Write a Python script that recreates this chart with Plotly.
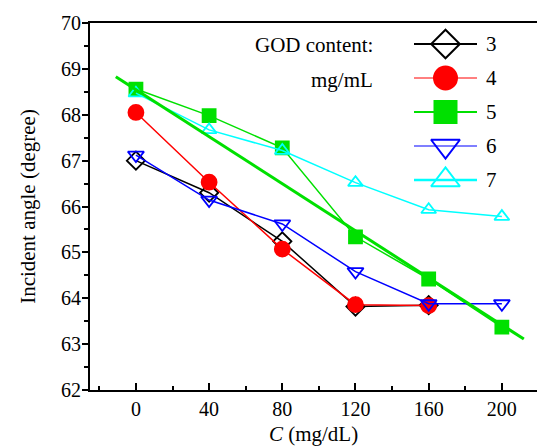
import plotly.graph_objects as go

# ---- data ----
conc = [0, 40, 80, 120, 160, 200]
god3 = [67.00, 66.30, 65.24, 63.82, 63.85]
god4 = [68.05, 66.53, 65.07, 63.86, 63.84]
god5 = [68.56, 67.98, 67.28, 65.34, 64.42, 63.37]
god6 = [67.12, 66.14, 65.62, 64.58, 63.88, 63.88]
god7 = [68.47, 67.67, 67.22, 66.52, 65.93, 65.78]
fit5_x = [-11, 212]
fit5_y = [68.83, 63.11]

legend_labels = ["3", "4", "5", "6", "7"]
colors = ["black", "#ff0000", "#00e000", "#0000ff", "#00ffff"]
symbols = ["diamond-open", "circle", "square", "triangle-down-open", "triangle-up-open"]
series = [god3, god4, god5, god6, god7]
plot_sizes = [14, 15, 13, 14, 13]
legend_sizes = [22, 23, 22, 25, 25]
legend_lw = [2, 1, 2, 1.2, 2.5]

FONT = "Liberation Serif"

fig = go.Figure()

for ys, c, sym, ms in zip(series, colors, symbols, plot_sizes):
    fig.add_trace(go.Scatter(
        x=conc[:len(ys)], y=ys, mode="lines+markers",
        line=dict(color=c, width=1.5),
        marker=dict(symbol=sym, size=ms, color=c, line=dict(color=c, width=1.8)),
        showlegend=False, cliponaxis=False))

fig.add_trace(go.Scatter(x=fit5_x, y=fit5_y, mode="lines",
                         line=dict(color="#00e000", width=3), showlegend=False))

# ---- custom legend on hidden axes ----
for i, (lab, c, sym, ms, lw) in enumerate(zip(legend_labels, colors, symbols, legend_sizes, legend_lw)):
    fig.add_trace(go.Scatter(x=[0, 2], y=[i, i], mode="lines", line=dict(color=c, width=lw),
                             xaxis="x2", yaxis="y2", showlegend=False, hoverinfo="skip"))
    fig.add_trace(go.Scatter(x=[1], y=[i], mode="markers",
                             marker=dict(symbol=sym, size=ms, color=c, line=dict(color=c, width=2)),
                             xaxis="x2", yaxis="y2", showlegend=False, cliponaxis=False, hoverinfo="skip"))
    fig.add_annotation(x=2, y=i, xref="x2", yref="y2", text=lab, showarrow=False,
                       xanchor="left", yanchor="middle", xshift=7,
                       font=dict(family=FONT, size=21, color="black"))

fig.add_annotation(x=(375 - 90) / 447, y=(390 - 45) / 367, xref="paper", yref="paper",
                   text="GOD content:", showarrow=False, xanchor="right", yanchor="middle",
                   font=dict(family=FONT, size=21, color="black"))
fig.add_annotation(x=(375 - 90) / 447, y=(390 - 80) / 367, xref="paper", yref="paper",
                   text="mg/mL", showarrow=False, xanchor="right", yanchor="middle",
                   font=dict(family=FONT, size=21, color="black"))

fig.update_layout(
    width=537, height=446,
    margin=dict(l=90, r=0, t=23, b=56),
    paper_bgcolor="white", plot_bgcolor="white",
    font=dict(family=FONT, size=20, color="black"),
    xaxis=dict(
        range=[-25.1, 219.2], tickvals=conc, ticks="inside", ticklen=7, tickwidth=1.5,
        tickcolor="black", showline=True, linecolor="black", linewidth=2, mirror=True,
        showgrid=False, zeroline=False,
        minor=dict(dtick=20, tick0=0, ticks="inside", ticklen=4, tickwidth=1.5, tickcolor="black"),
        tickfont=dict(family=FONT, size=20),
        title=dict(text="<i>C</i> (mg/dL)", font=dict(family=FONT, size=21), standoff=8),
    ),
    yaxis=dict(
        range=[62, 70], dtick=1, ticks="outside", ticklen=6, tickwidth=1.5, tickcolor="black",
        showline=True, linecolor="black", linewidth=2, mirror=False,
        showgrid=False, zeroline=False, ticklabelstandoff=-3,
        minor=dict(dtick=0.5, ticks="outside", ticklen=4, tickwidth=1.5, tickcolor="black"),
        tickfont=dict(family=FONT, size=20),
        title=dict(text="Incident angle (degree)", font=dict(family=FONT, size=21), standoff=20),
    ),
    xaxis2=dict(domain=[(407.7 - 90) / 447, (483.3 - 90) / 447], range=[-0.2, 2.2],
                visible=False, anchor="y2"),
    yaxis2=dict(domain=[(390 - 197) / 367, (390 - 27) / 367], range=[4.5, -0.5],
                visible=False, anchor="x2"),
)

fig.write_html("out.html")
